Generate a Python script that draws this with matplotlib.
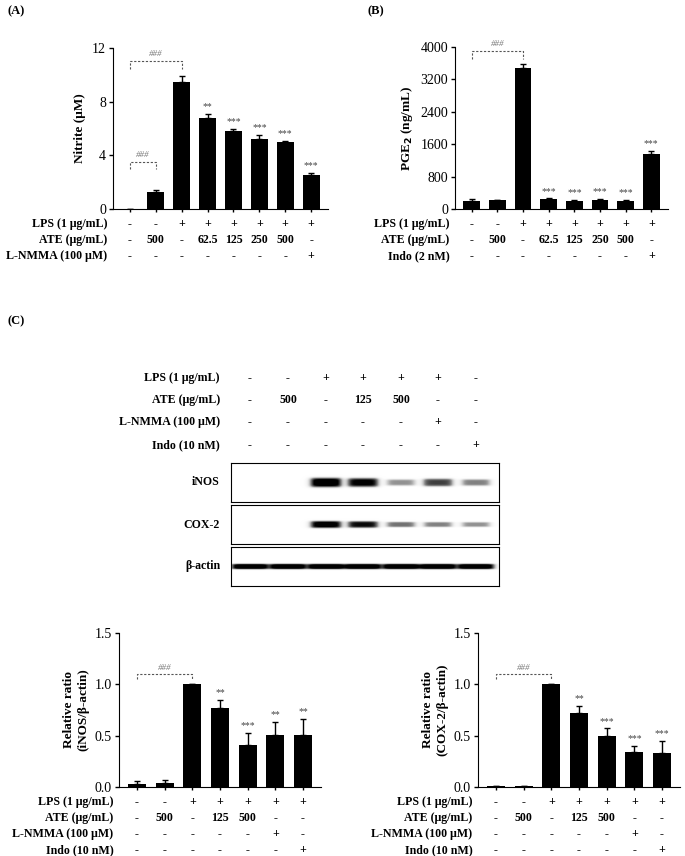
import numpy as np
import matplotlib
matplotlib.use("Agg")
import matplotlib.pyplot as plt

plt.rcParams["font.family"] = "Liberation Serif"

# ---------------- data ----------------
a_vals = [0.0, 1.3, 9.5, 6.8, 5.85, 5.2, 5.0, 2.5]
a_err = [0.0, 0.15, 0.4, 0.3, 0.15, 0.3, 0.1, 0.2]
a_sig = ["", "", "", "**", "***", "***", "***", "***"]
a_lps = ["-", "-", "+", "+", "+", "+", "+", "+"]
a_ate = ["-", "500", "-", "62.5", "125", "250", "500", "-"]
a_inh = ["-", "-", "-", "-", "-", "-", "-", "+"]

b_vals = [200, 210, 3480, 240, 200, 220, 200, 1360]
b_err = [40, 20, 110, 20, 30, 20, 20, 70]
b_sig = ["", "", "", "***", "***", "***", "***", "***"]
b_inh = ["-", "-", "-", "-", "-", "-", "-", "+"]

c_lps = ["-", "-", "+", "+", "+", "+", "-"]
c_ate = ["-", "500", "-", "125", "500", "-", "-"]
c_nmma = ["-", "-", "-", "-", "-", "+", "-"]
c_indo = ["-", "-", "-", "-", "-", "-", "+"]
c_lps2 = ["-", "-", "+", "+", "+", "+", "+"]

inos_band = [0.0, 0.0, 1.0, 0.9, 0.45, 0.7, 0.5]
cox_band = [0.0, 0.0, 0.95, 0.85, 0.55, 0.5, 0.45]
actin_band = [1.0, 1.0, 1.0, 1.0, 1.0, 1.0, 1.0]

inos_vals = [0.03, 0.035, 1.0, 0.77, 0.41, 0.505, 0.505]
inos_err = [0.03, 0.03, 0.0, 0.08, 0.12, 0.13, 0.16]
inos_sig = ["", "", "", "**", "***", "**", "**"]
cox_vals = [0.005, 0.005, 1.0, 0.72, 0.5, 0.34, 0.33]
cox_err = [0.0, 0.0, 0.0, 0.07, 0.07, 0.06, 0.12]
cox_sig = ["", "", "", "**", "***", "***", "***"]

W, H = 685, 856
fig = plt.figure(figsize=(W / 100, H / 100), dpi=100)
FS = 8.6


def ax_px(l, t, r, b):
    return fig.add_axes([l / W, 1 - b / H, (r - l) / W, (b - t) / H])


def bar_panel(ax, vals, err, sig, ymax, yticks, ylabel, rows, row_labels, bracket_specs, row_gap=16, fmt=None):
    n = len(vals)
    x = np.arange(n)
    ax.bar(x, vals, width=0.66, color="black")
    ax.errorbar(x, vals, yerr=[np.zeros(n), err], fmt="none", ecolor="black",
                elinewidth=1, capsize=2.5, capthick=1)
    ax.set_xlim(-0.65, n - 0.35)
    ax.set_ylim(0, ymax)
    ax.set_yticks(yticks)
    if fmt:
        ax.set_yticklabels([fmt(v) for v in yticks])
    ax.tick_params(axis="y", labelsize=10, length=3, width=1, pad=2)
    ax.set_xticks(x)
    ax.tick_params(axis="x", labelbottom=False, length=2, width=1)
    for s in ["top", "right"]:
        ax.spines[s].set_visible(False)
    ax.set_ylabel(ylabel, fontsize=9.5, fontweight="bold", labelpad=4)
    for i, (v, e, s) in enumerate(zip(vals, err, sig)):
        if s:
            ax.annotate(s, (i, v + e), xytext=(0, 2), textcoords="offset points",
                        ha="center", va="bottom", fontsize=7, color="#444444")
    for r, (row, lab) in enumerate(zip(rows, row_labels)):
        off = -(15 + r * row_gap) * 0.72
        ax.annotate(lab, (0, 0), xycoords="axes fraction", xytext=(-4, off),
                    textcoords="offset points", ha="right", va="center",
                    fontsize=FS, fontweight="bold")
        for i, t in enumerate(row):
            ax.annotate(t, (i, 0), xycoords=("data", "axes fraction"), xytext=(0, off),
                        textcoords="offset points", ha="center", va="center",
                        fontsize=FS, fontweight="bold")
    for (i0, i1, yb, drop) in bracket_specs:
        ax.plot([i0, i0, i1, i1], [yb - drop, yb, yb, yb - drop], ls=(0, (2, 1.5)),
                color="#555555", lw=0.8)
        ax.text((i0 + i1) / 2, yb + drop * 0.4, "###", ha="center", va="bottom",
                fontsize=6.5, color="#777777", style="italic")


# Panel A
axA = ax_px(113, 48, 328, 209)
bar_panel(axA, a_vals, a_err, a_sig, 12, [0, 4, 8, 12], "Nitrite (\u03bcM)",
          [a_lps, a_ate, a_inh],
          ["LPS (1 \u03bcg/mL)", "ATE (\u03bcg/mL)", "L-NMMA (100 \u03bcM)"],
          [(0, 1, 3.5, 0.5), (0, 2, 11.0, 0.6)])
fig.text(7 / W, 1 - 5 / H, "(A)", fontsize=9, fontweight="bold", va="top")

# Panel B
axB = ax_px(455, 47, 668, 209)
bar_panel(axB, b_vals, b_err, b_sig, 4000, [0, 800, 1600, 2400, 3200, 4000],
          "PGE$_\\mathbf{2}$ (ng/mL)", [a_lps, a_ate, b_inh],
          ["LPS (1 \u03bcg/mL)", "ATE (\u03bcg/mL)", "Indo (2 nM)"],
          [(0, 2, 3900, 200)])
fig.text(367 / W, 1 - 5 / H, "(B)", fontsize=9, fontweight="bold", va="top")

# Panel C
fig.text(7 / W, 1 - 315 / H, "(C)", fontsize=9, fontweight="bold", va="top")
lane_x = [250, 288, 326, 363, 401, 438, 476]
crow_y = [378, 400, 422, 445]
crow_lab = ["LPS (1 \u03bcg/mL)", "ATE (\u03bcg/mL)", "L-NMMA (100 \u03bcM)", "Indo (10 nM)"]
for y, lab, row in zip(crow_y, crow_lab, [c_lps, c_ate, c_nmma, c_indo]):
    fig.text(220 / W, 1 - y / H, lab, ha="right", va="center", fontsize=FS, fontweight="bold")
    for lx, t in zip(lane_x, row):
        fig.text(lx / W, 1 - y / H, t, ha="center", va="center", fontsize=FS, fontweight="bold")

blots = [("iNOS", inos_band, 463, 502, 4.5, 15), ("COX-2", cox_band, 505, 544, 3.5, 15),
         ("\u03b2-actin", actin_band, 547, 586, 2.6, 18)]
xx = np.arange(231, 499) + 0.5
for name, bands, t, b, thick, hw0 in blots:
    ax = ax_px(231, t, 499, b)
    yy = np.arange(t, b) + 0.5
    X, Y = np.meshgrid(xx, yy)
    img = np.zeros_like(X)
    yc = (t + b) / 2
    for lx, inten in zip(lane_x, bands):
        hw = hw0 - 2 + 2 * inten
        prof_x = 1 / (1 + np.exp((np.abs(X - lx) - hw) / 1.8))
        prof_y = np.exp(-((Y - yc) / (thick * (0.45 + 0.6 * inten) + 0.1)) ** 4)
        img += inten * prof_x * prof_y * 1.15
    img = np.clip(img, 0, 1)
    ax.imshow(img, cmap="Greys", vmin=0, vmax=1, aspect="auto",
              extent=[231, 499, b, t], interpolation="bilinear")
    ax.set_xticks([])
    ax.set_yticks([])
    for s in ax.spines.values():
        s.set_linewidth(0.8)
    fig.text(220 / W, 1 - (t + b) / 2 / H, name, ha="right", va="center",
             fontsize=FS, fontweight="bold")

c_rows = [c_lps2, c_ate, c_nmma, c_indo]
axD = ax_px(119, 633, 321, 787)
bar_panel(axD, inos_vals, inos_err, inos_sig, 1.5, [0.0, 0.5, 1.0, 1.5],
          "Relative ratio\n(iNOS/\u03b2-actin)", c_rows, crow_lab,
          [(0, 2, 1.1, 0.05)], fmt=lambda v: f"{v:.1f}")
axE = ax_px(478, 633, 680, 787)
bar_panel(axE, cox_vals, cox_err, cox_sig, 1.5, [0.0, 0.5, 1.0, 1.5],
          "Relative ratio\n(COX-2/\u03b2-actin)", c_rows, crow_lab,
          [(0, 2, 1.1, 0.05)], fmt=lambda v: f"{v:.1f}")

fig.savefig("out.png", dpi=100)
